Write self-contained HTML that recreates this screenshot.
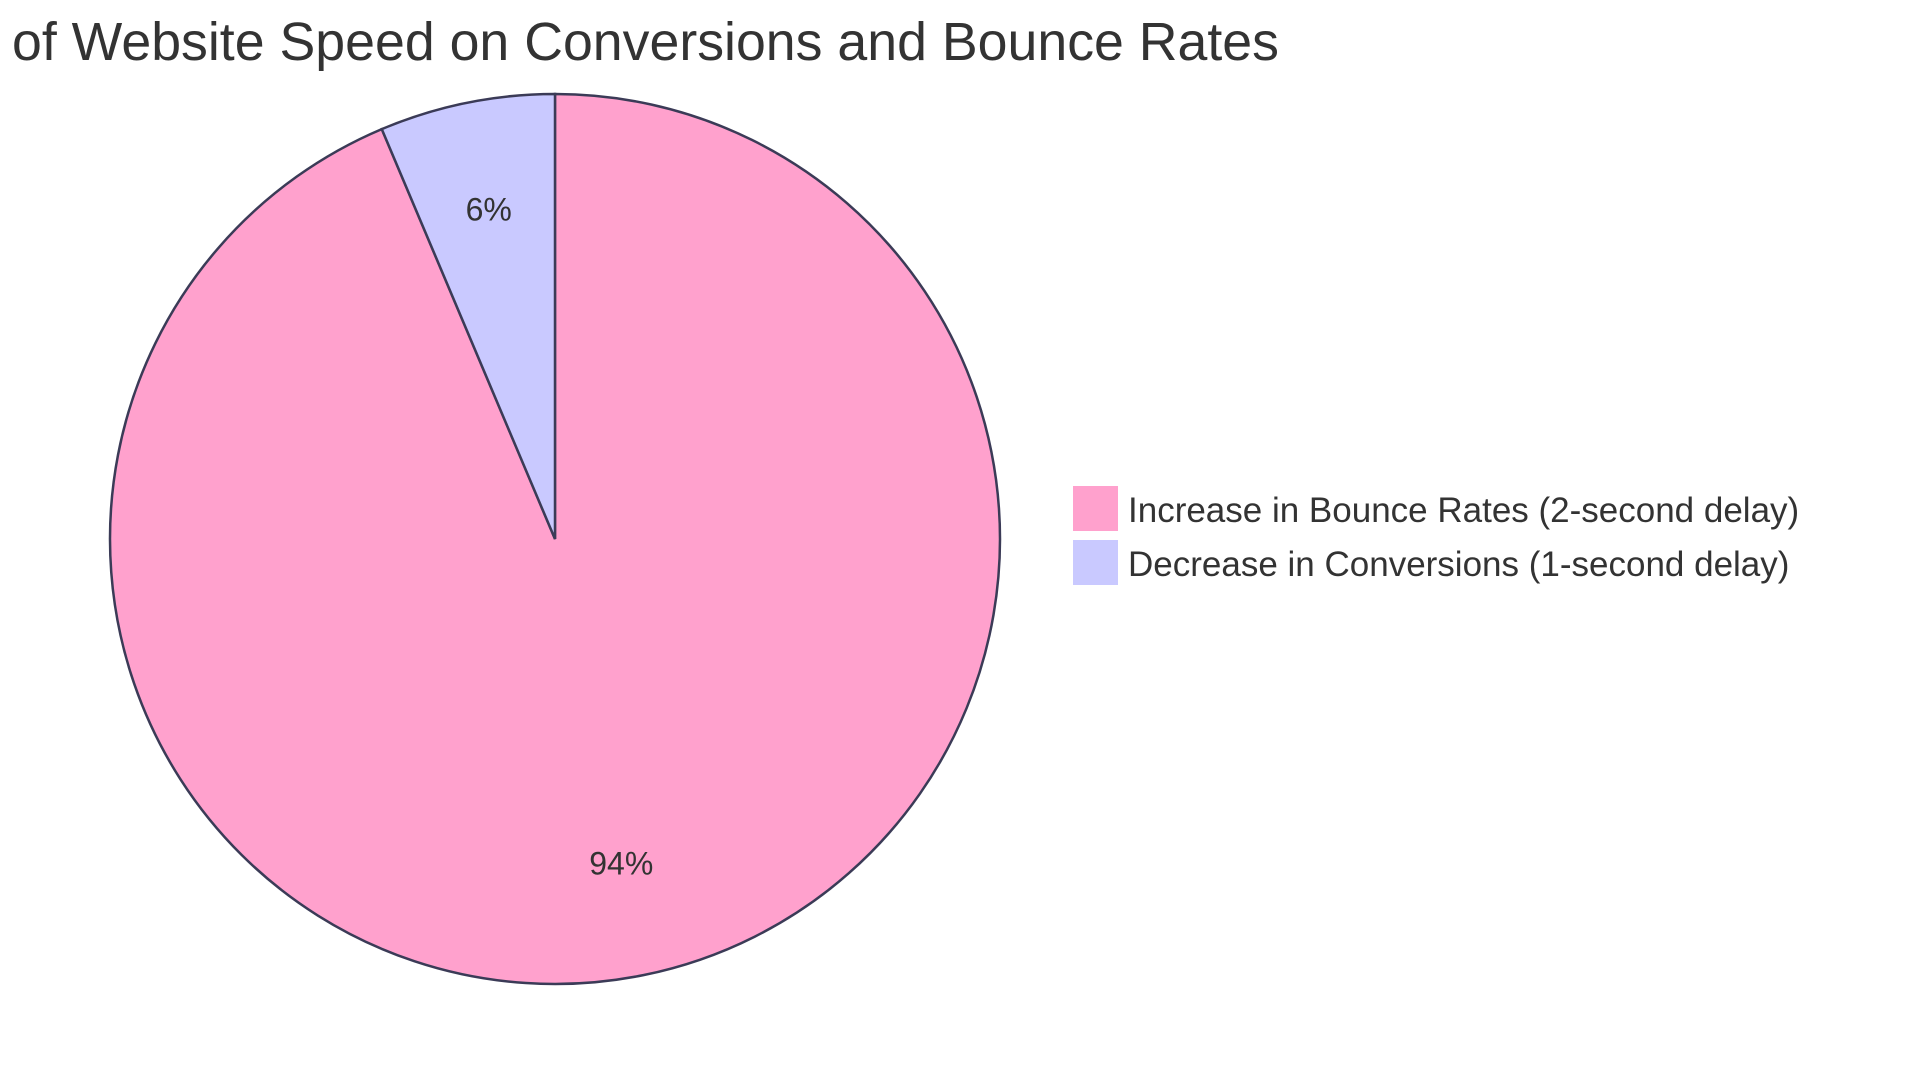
<!DOCTYPE html>
<html><head><meta charset="utf-8"><style>
html,body{margin:0;padding:0;background:#fff;}
svg{display:block;font-family:"Liberation Sans",sans-serif;}
</style></head><body>
<svg id="chart" width="1920" height="1083" viewBox="0 0 1920 1083">
<text x="12" y="60" font-size="54" fill="#333" textLength="1267" lengthAdjust="spacingAndGlyphs">of Website Speed on Conversions and Bounce Rates</text>
<g id="slices"></g>
<g id="labels"></g>
<g id="legend"></g>
</svg>
<script>
const categories = ["Increase in Bounce Rates (2-second delay)", "Decrease in Conversions (1-second delay)"];
const values = [103, 7];
const colors = ["#ffa1cd", "#c9c9ff"];
const cx = 555, cy = 539, r = 445;
const NS = "http://www.w3.org/2000/svg";
const total = values.reduce((a,b)=>a+b,0);
const gS = document.getElementById("slices"), gL = document.getElementById("labels"), gG = document.getElementById("legend");
function pt(a, rr){ return [cx + rr*Math.sin(a), cy - rr*Math.cos(a)]; }
let start = 0;
values.forEach((v,i)=>{
  const ang = v/total*2*Math.PI;
  const end = start + ang;
  const [x1,y1] = pt(start,r), [x2,y2] = pt(end,r);
  const p = document.createElementNS(NS,"path");
  p.setAttribute("d",`M${cx},${cy} L${x1},${y1} A${r},${r} 0 ${ang>Math.PI?1:0} 1 ${x2},${y2} Z`);
  p.setAttribute("fill",colors[i]);
  p.setAttribute("stroke","#3b3b57");
  p.setAttribute("stroke-width","2.5");
  
  
  gS.appendChild(p);
  const [lx,ly] = pt(start+ang/2, r*0.75);
  const t = document.createElementNS(NS,"text");
  t.setAttribute("x",lx); t.setAttribute("y",ly);
  t.setAttribute("text-anchor","middle"); t.setAttribute("dominant-baseline","middle");
  t.setAttribute("font-size","32"); t.setAttribute("fill","#333");
  t.textContent = Math.round(v/total*100) + "%";
  
  
  gL.appendChild(t);
  start = end;
});
categories.forEach((c,i)=>{
  const y = 486 + i*54;
  const rc = document.createElementNS(NS,"rect");
  rc.setAttribute("x",1073); rc.setAttribute("y",y); rc.setAttribute("width",45); rc.setAttribute("height",45);
  rc.setAttribute("fill",colors[i]);
  
  
  gG.appendChild(rc);
  const t = document.createElementNS(NS,"text");
  t.setAttribute("x",1128); t.setAttribute("y",y+36);
  t.setAttribute("font-size","35"); t.setAttribute("fill","#333");
  t.textContent = c;
  
  
  gG.appendChild(t);
});
</script>
</body></html>
